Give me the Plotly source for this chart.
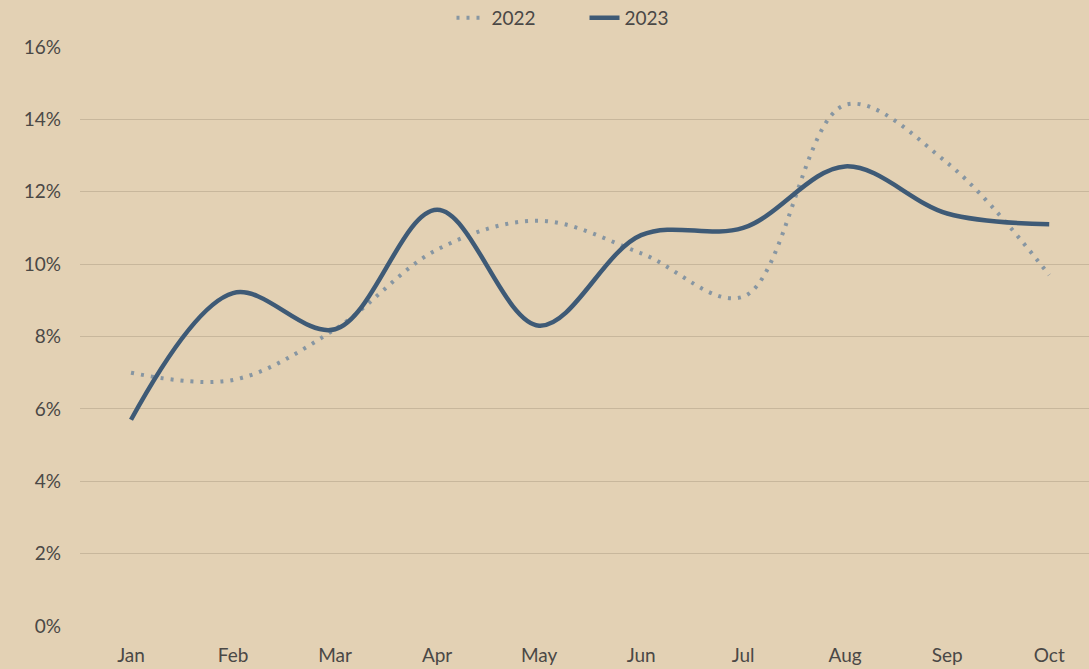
import plotly.graph_objects as go

months = ["Jan", "Feb", "Mar", "Apr", "May", "Jun", "Jul", "Aug", "Sep", "Oct"]
rate_2022 = [7.0, 6.8, 8.2, 10.4, 11.2, 10.3, 9.1, 14.4, 12.8, 9.7]
rate_2023 = [5.7, 9.2, 8.2, 11.5, 8.3, 10.8, 11.0, 12.7, 11.4, 11.1]
y_ticks = [0, 2, 4, 6, 8, 10, 12, 14, 16]

BG = "#E3D1B4"
GRID = "#C8B79C"
TEXT = "#4A4846"
FONT = "Lato"

fig = go.Figure()
fig.add_trace(go.Scatter(
    x=months, y=[v / 100 for v in rate_2022], name="2022", mode="lines",
    line=dict(color="#8796A2", width=4, dash="3px,7px", shape="spline", smoothing=1.0),
))
fig.add_trace(go.Scatter(
    x=months, y=[v / 100 for v in rate_2023], name="2023", mode="lines",
    line=dict(color="#3E5A76", width=4.5, shape="spline", smoothing=1.0),
))

fig.update_layout(
    width=1089, height=669,
    paper_bgcolor=BG, plot_bgcolor=BG,
    margin=dict(l=80, r=0, t=47, b=43, autoexpand=False),
    font=dict(family=FONT, size=19, color=TEXT),
    showlegend=True,
    legend=dict(orientation="h", x=0.5, xanchor="center", y=(669 - 18) / 669, yanchor="middle",
                yref="container", bgcolor="rgba(0,0,0,0)", font=dict(size=19, color=TEXT),
                entrywidth=88, entrywidthmode="pixels", traceorder="normal"),
    xaxis=dict(range=[-0.5, 9.39], showgrid=False, zeroline=False, showline=False,
               ticks="", tickfont=dict(size=19, color=TEXT), ticklabelstandoff=16),
    yaxis=dict(range=[0, 0.16], tickvals=[t / 100 for t in y_ticks],
               ticktext=[f"{t}%" for t in y_ticks],
               showgrid=True, gridcolor=GRID, gridwidth=1.2, zeroline=False,
               showline=False, ticks="", tickfont=dict(size=19, color=TEXT),
               ticklabelstandoff=18),
)

fig.write_html("out.html")
